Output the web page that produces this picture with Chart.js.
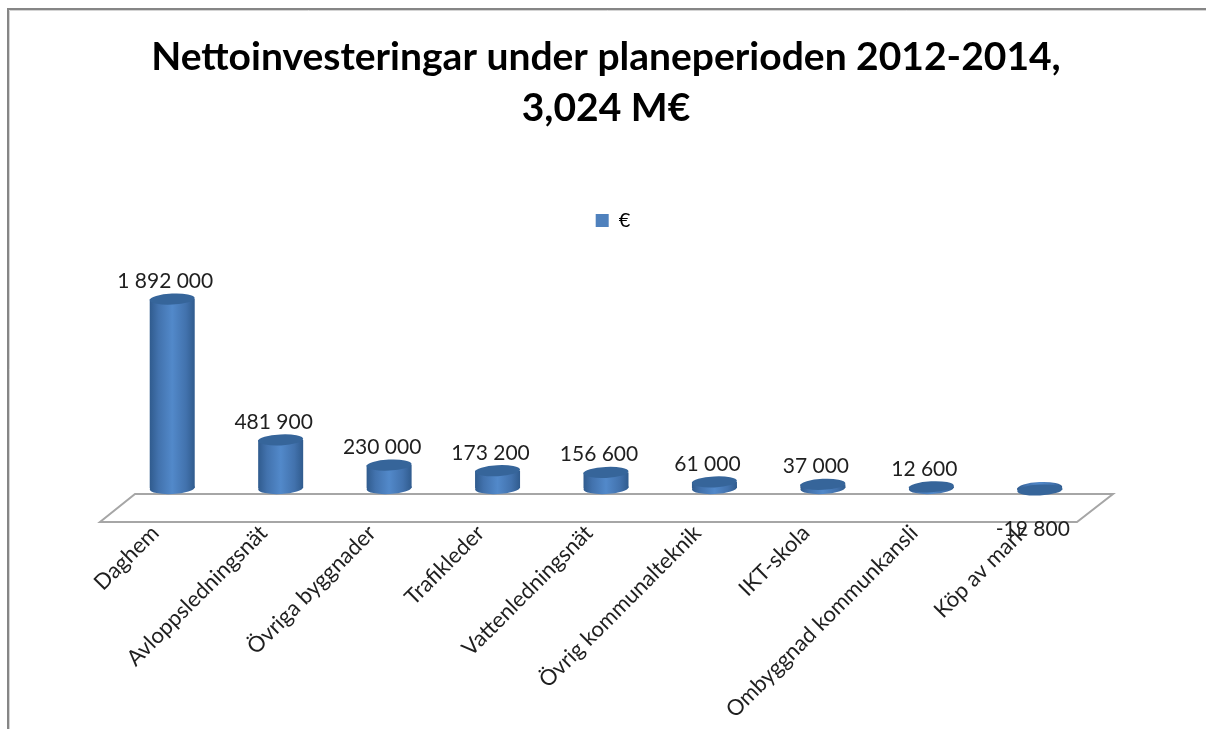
<!DOCTYPE html>
<html>
<head>
<meta charset="utf-8">
<title>Nettoinvesteringar</title>
<style>
  html, body { margin: 0; padding: 0; background: #fff; }
  #wrap { width: 1206px; height: 729px; }
</style>
<script src="https://cdn.jsdelivr.net/npm/chart.js@4"></script>
</head>
<body>
<div id="wrap"><canvas id="chart" width="1206" height="729"></canvas></div>
<script>
const titleLines = ['Nettoinvesteringar under planeperioden 2012-2014,', '3,024 M€'];
const seriesName = '€';
const categories = ['Daghem', 'Avloppsledningsnät', 'Övriga byggnader', 'Trafikleder', 'Vattenledningsnät',
    'Övrig kommunalteknik', 'IKT-skola', 'Ombyggnad kommunkansli', 'Köp av mark'];
const values = [1892000, 481900, 230000, 173200, 156600, 61000, 37000, 12600, -19800];
const valueLabels = ['1 892 000', '481 900', '230 000', '173 200', '156 600', '61 000', '37 000', '12 600', '-19 800'];

const font = 'Lato, Carlito, "Open Sans", sans-serif';

// gradient across one cylinder, dark edges and a light middle
const cylinderFill = (context) => {
    const chart = context.chart;
    if (!chart.chartArea || context.dataIndex === undefined) {
        return '#4F81BD';
    }
    const x = chart.scales.x.getPixelForValue(context.dataIndex);
    const gradient = chart.ctx.createLinearGradient(x - 23, 0, x + 23, 0);
    gradient.addColorStop(0, '#2F5A8C');
    gradient.addColorStop(0.2, '#4272AD');
    gradient.addColorStop(0.5, '#5289CA');
    gradient.addColorStop(0.8, '#4272AD');
    gradient.addColorStop(1, '#2F5A8C');
    return gradient;
};

// frame and floor go under the bars
const backdropPlugin = {
    id: 'backdrop',
    afterLayout(chart) {
        // legend sits a little right of the plot centre
        chart.legend.left += 7;
        chart.legend.right += 7;
    },
    beforeDatasetsDraw(chart) {
        const {ctx, scales} = chart;
        const zero = scales.y.getPixelForValue(0);
        const left = scales.x.left;
        const right = scales.x.right;
        ctx.save();
        ctx.strokeStyle = '#A6A6A6';
        ctx.lineWidth = 2;
        ctx.beginPath();
        ctx.moveTo(left + 17, zero + 6);
        ctx.lineTo(right + 19, zero + 6);
        ctx.lineTo(right - 17, zero + 34);
        ctx.lineTo(left - 18, zero + 34);
        ctx.closePath();
        ctx.stroke();
        ctx.restore();
    },
    beforeDraw(chart) {
        const {ctx} = chart;
        ctx.save();
        ctx.lineWidth = 1;
        ctx.strokeStyle = '#D4D4D4';
        ctx.beginPath();
        ctx.moveTo(9.5, 729);
        ctx.lineTo(9.5, 10.5);
        ctx.lineTo(1206, 10.5);
        ctx.stroke();
        ctx.strokeStyle = '#868686';
        ctx.lineWidth = 2;
        ctx.beginPath();
        ctx.moveTo(8, 729);
        ctx.lineTo(8, 9);
        ctx.lineTo(1206, 9);
        ctx.stroke();
        ctx.restore();
    }
};

// elliptical caps and the value labels
const cylinderPlugin = {
    id: 'cylinder',
    afterDatasetsDraw(chart) {
        const {ctx} = chart;
        const meta = chart.getDatasetMeta(0);
        ctx.save();
        meta.data.forEach((bar, index) => {
            const rx = bar.width / 2;
            ctx.fillStyle = bar.options.backgroundColor;
            ctx.beginPath();
            ctx.ellipse(bar.x, bar.base, rx, 6, -0.05, 0, Math.PI * 2);
            ctx.fill();

            ctx.fillStyle = '#36659A';
            ctx.beginPath();
            ctx.ellipse(bar.x, bar.y, rx, 5.5, -0.05, 0, Math.PI * 2);
            ctx.fill();

            ctx.fillStyle = '#1F1F1F';
            ctx.font = '21px ' + font;
            ctx.textAlign = 'center';
            ctx.textBaseline = 'middle';
            const labelY = values[index] < 0 ? bar.y + 39 : bar.y - 18;
            ctx.fillText(valueLabels[index], bar.x - 7, labelY);
        });
        ctx.restore();
    }
};

new Chart(document.getElementById('chart'), {
    type: 'bar',
    data: {
        labels: categories,
        datasets: [{
            label: seriesName,
            data: values,
            backgroundColor: cylinderFill,
            borderWidth: 0,
            categoryPercentage: 1,
            barPercentage: 0.415,
        }]
    },
    options: {
        responsive: false,
        animation: false,
        layout: {
            padding: {left: 118, right: 112, top: 32, bottom: 0},
        },
        plugins: {
            title: {
                display: true,
                text: titleLines,
                color: '#000',
                font: {family: font, size: 39, weight: 'bold', lineHeight: 1.3},
                padding: {top: 0, bottom: 67},
            },
            legend: {
                position: 'top',
                labels: {
                    boxWidth: 13,
                    boxHeight: 13,
                    color: '#1F1F1F',
                    font: {family: font, size: 20},
                    generateLabels: () => [{text: seriesName, fillStyle: '#4F81BD', strokeStyle: '#4F81BD', lineWidth: 0}],
                },
            },
            tooltip: {enabled: false},
        },
        scales: {
            x: {
                grid: {display: false, drawTicks: false},
                border: {display: false},
                afterFit(scale) { scale.height = 221; },
                ticks: {
                    autoSkip: false,
                    minRotation: 45,
                    maxRotation: 45,
                    padding: 12,
                    labelOffset: -17,
                    color: '#1F1F1F',
                    font: {family: font, size: 22},
                },
            },
            y: {
                display: false,
                min: -200000,
                max: 2480000,
            }
        }
    },
    plugins: [backdropPlugin, cylinderPlugin],
});
</script>
</body>
</html>
